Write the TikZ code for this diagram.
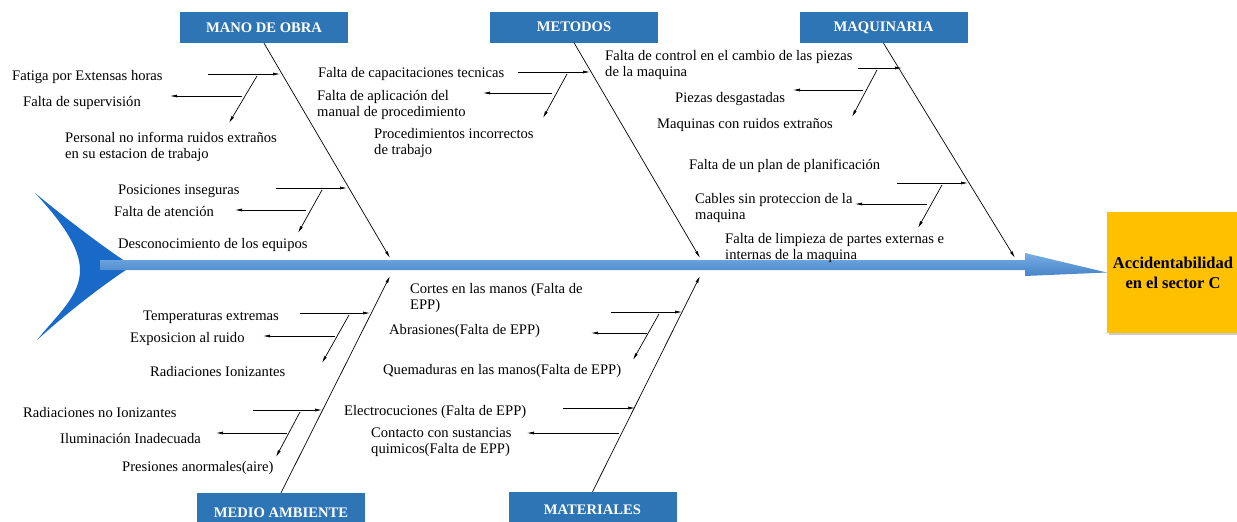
\documentclass[tikz,border=0pt]{standalone}
\usepackage{fontspec}
\setmainfont{Liberation Serif}
\usepackage{tikz}
\usetikzlibrary{arrows.meta,shadows}

\definecolor{cajaazul}{RGB}{46,117,182}
\definecolor{espina}{RGB}{120,175,228}
\definecolor{espinaosc}{RGB}{70,132,200}
\definecolor{cola}{RGB}{25,105,200}
\definecolor{amarillo}{RGB}{255,192,0}

\begin{document}
\begin{tikzpicture}[
    x=1pt, y=-1pt,
    every node/.style={font=\fontsize{14.6}{16}\selectfont},
    causa/.style={anchor=base west, inner sep=0pt, align=left},
    categoria/.style={fill=cajaazul, text=white,
        font=\fontsize{14.6}{16}\selectfont\bfseries,
        minimum width=168pt, minimum height=31pt, inner sep=0pt},
    hueso/.style={draw, line width=0.7pt, -{Latex[length=7pt,width=3pt]}},
    flecha/.style={draw, line width=0.7pt, -{Latex[length=7pt,width=3pt]}},
  ]

  \useasboundingbox (0,0) rectangle (1237,522);

  % efecto
  \node[fill=amarillo, minimum width=132pt, minimum height=121pt, inner sep=0pt,
        align=center, font=\fontsize{16.5}{20}\selectfont\bfseries,
        drop shadow={opacity=0.4, shadow xshift=2pt, shadow yshift=-2pt}]
        (efecto) at (1173,272.5) {Accidentabilidad\\en el sector C};

  % cola del pescado
  \fill[cola] (35,193) .. controls (75,226) and (108,250) .. (132,266)
        .. controls (104,284) and (68,312) .. (37,340)
        .. controls (58,314) and (80,296) .. (80,270)
        .. controls (80,248) and (62,222) .. (35,193) -- cycle;

  % espina central
  \shade[top color=espina, bottom color=espinaosc]
        (100,260) -- (1025,260) -- (1025,253) -- (efecto.west)
        -- (1025,276) -- (1025,270) -- (100,270) -- cycle;

  % categorias
  \node[categoria] (mano) at (264,27.5) {MANO DE OBRA};
  \node[categoria] (metodos) at (574,27) {METODOS};
  \node[categoria] (maquinaria) at (883.5,27.5) {MAQUINARIA};
  \node[categoria, minimum height=40pt] (medio) at (281,513) {MEDIO AMBIENTE};
  \node[categoria, minimum height=36pt] (materiales) at (592.5,510) {MATERIALES};

  \coordinate (p1) at (390,258);
  \coordinate (p2) at (700,258);
  \coordinate (p3) at (1015,258);
  \coordinate (p4) at (390,276);
  \coordinate (p5) at (700,276);

  \draw[hueso] (mano.south) -- (p1);
  \draw[hueso] (metodos.south) -- (p2);
  \draw[hueso] (maquinaria.south) -- (p3);
  \draw[hueso] (medio.north) -- (p4);
  \draw[hueso] (materiales.north) -- (p5);

  % flechas de las causas
  \foreach \g/\ya/\xa/\xb/\yb/\xc/\xd/\xs/\xe/\ye in {
      1/74/208/280/96/242/170/257/229/123,
      2/188/276/347/210/306/235/322/298/233,
      3/72/518/590/93/552/483/567/543/118,
      4/68/858/902/90/863/793/877/852/117,
      5/183/897/968/204/927/855/942/918/228,
      6/313/300/370/336/335/263/349/322/363,
      7/410/253/322/433/287/216/300/276/457,
      8/312/611/682/333/647/591/659/633/360}{
    \coordinate (a\g) at (\xa,\ya);
    \coordinate (b\g) at (\xb,\ya);
    \coordinate (c\g) at (\xc,\yb);
    \coordinate (d\g) at (\xd,\yb);
    \coordinate (e\g) at (\xs,\ya+2);
    \coordinate (f\g) at (\xe,\ye);
    \draw[flecha] (a\g) -- (b\g);
    \draw[flecha] (c\g) -- (d\g);
    \draw[flecha] (e\g) -- (f\g);
  }
  \coordinate (a9) at (563,408);
  \coordinate (b9) at (635,408);
  \coordinate (c9) at (619,433);
  \coordinate (d9) at (527,433);
  \draw[flecha] (a9) -- (b9);
  \draw[flecha] (c9) -- (d9);

  % mano de obra
  \node[causa] (m1) at (12,80) {Fatiga por Extensas horas};
  \node[causa] (m2) at (23,106) {Falta de supervisión};
  \node[causa] (m3) at (65,158) {Personal no informa ruidos extraños\\en su estacion de trabajo};
  \node[causa] (m4) at (118,194) {Posiciones inseguras};
  \node[causa] (m5) at (114,216) {Falta de atención};
  \node[causa] (m6) at (118,248) {Desconocimiento  de los equipos};

  % metodos
  \node[causa] (t1) at (318,77) {Falta de capacitaciones tecnicas};
  \node[causa] (t2) at (317,116) {Falta de aplicación del\\manual  de procedimiento};
  \node[causa] (t3) at (374,154) {Procedimientos incorrectos\\de trabajo};

  % maquinaria
  \node[causa] (q1) at (605,76) {Falta de control en el cambio de las piezas\\de la maquina};
  \node[causa] (q2) at (675,102) {Piezas desgastadas};
  \node[causa] (q3) at (657,128) {Maquinas  con ruidos extraños};
  \node[causa] (q4) at (689,169) {Falta de un plan de planificación};
  \node[causa] (q5) at (695,219) {Cables sin proteccion de la\\maquina};
  \node[causa] (q6) at (725,259) {Falta de limpieza de partes externas  e\\internas de la maquina};

  % medio ambiente
  \node[causa] (a1) at (143,320) {Temperaturas  extremas};
  \node[causa] (a2) at (130,342) {Exposicion al ruido};
  \node[causa] (a3) at (150,376) {Radiaciones Ionizantes};
  \node[causa] (a4) at (23,417) {Radiaciones no Ionizantes};
  \node[causa] (a5) at (60,443) {Iluminación  Inadecuada};
  \node[causa] (a6) at (122,471) {Presiones anormales(aire)};

  % materiales
  \node[causa] (r1) at (410,309) {Cortes en las manos  (Falta de\\EPP)};
  \node[causa] (r2) at (389,334) {Abrasiones(Falta de EPP)};
  \node[causa] (r3) at (383,374) {Quemaduras  en las manos(Falta de EPP)};
  \node[causa] (r4) at (344,415) {Electrocuciones (Falta de EPP)};
  \node[causa] (r5) at (371,453) {Contacto  con sustancias\\quimicos(Falta de EPP)};
\end{tikzpicture}
\end{document}
